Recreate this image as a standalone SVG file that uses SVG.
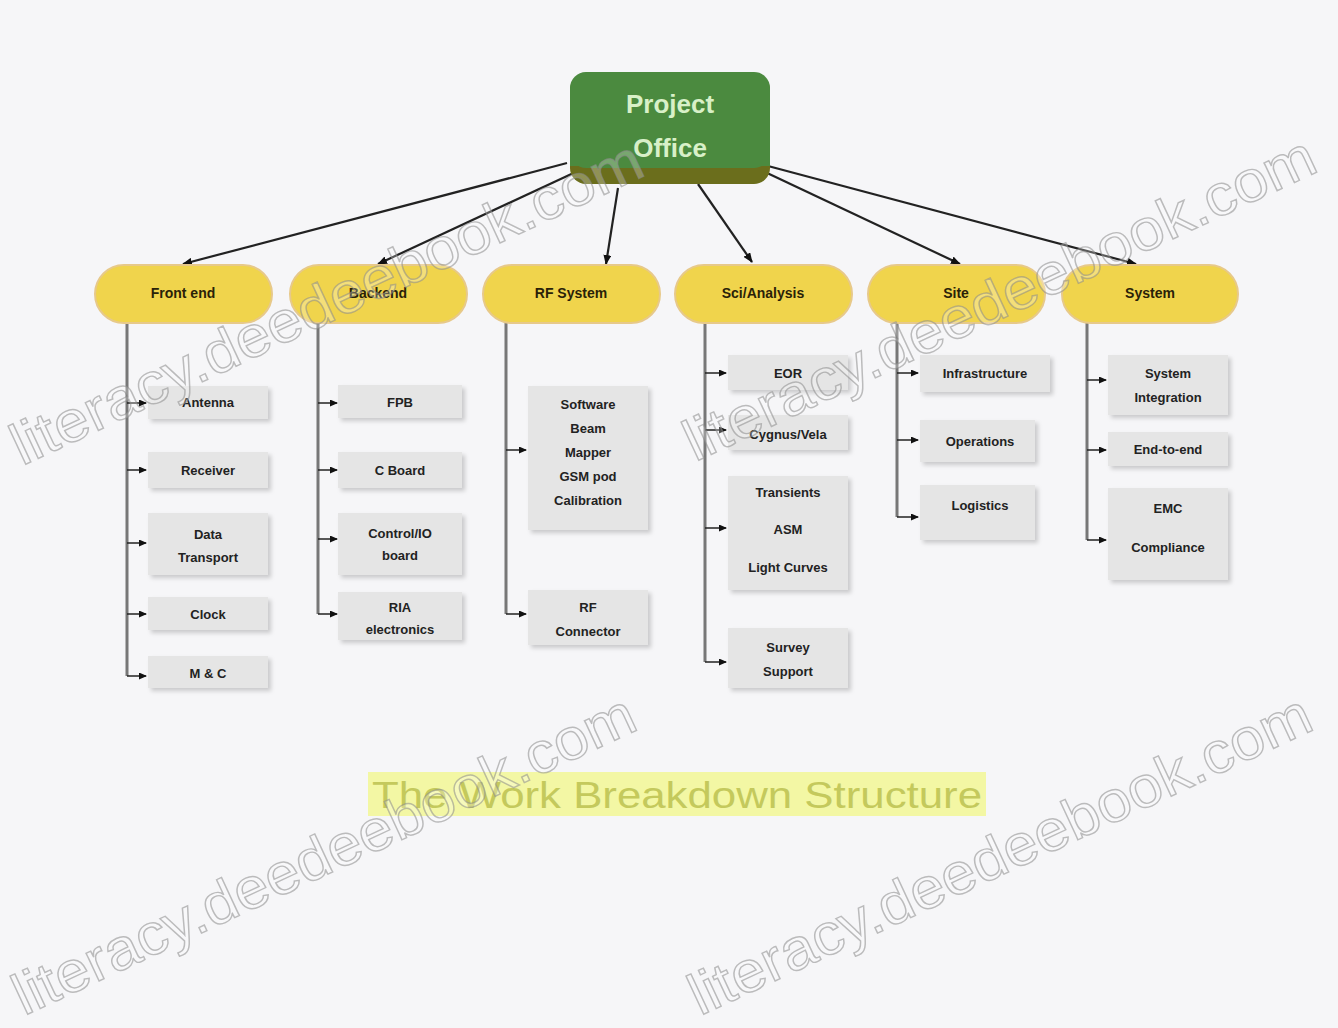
<svg xmlns="http://www.w3.org/2000/svg" width="1338" height="1028" viewBox="0 0 1338 1028">
<defs>
<marker id="ah" markerWidth="10" markerHeight="8" refX="9" refY="4" orient="auto" markerUnits="userSpaceOnUse">
<path d="M0,0 L10,4 L0,8 Z" fill="#111"/>
</marker>
<marker id="sh" markerWidth="8" markerHeight="7" refX="7" refY="3.5" orient="auto" markerUnits="userSpaceOnUse">
<path d="M0,0 L8,3.5 L0,7 Z" fill="#111"/>
</marker>
<filter id="shd" x="-10%" y="-10%" width="130%" height="140%">
<feDropShadow dx="3" dy="3" stdDeviation="2" flood-color="#000" flood-opacity="0.18"/>
</filter>
</defs>
<style>
.bg{fill:#f6f6f8}
.l2{fill:#f0d44c;stroke:#e7c98a;stroke-width:2}
.l2t{font-family:"Liberation Sans",Arial,sans-serif;font-size:14px;font-weight:bold;fill:#2a2208;text-anchor:middle}
.cb{fill:#e5e5e5}
.ct{font-family:"Liberation Sans",Arial,sans-serif;font-size:13px;font-weight:bold;fill:#222;text-anchor:middle}
.vl{stroke:#777;stroke-width:3;fill:none}
.hl{stroke:#222;stroke-width:1.5;fill:none;marker-end:url(#sh)}
.top{stroke:#222;stroke-width:2.2;fill:none;marker-end:url(#ah)}
.wm{font-family:"Liberation Sans",Arial,sans-serif;font-size:58px;fill:#ffffff;fill-opacity:0.25;stroke:#8a8a8a;stroke-width:1.4;stroke-opacity:0.55}
</style>
<rect class="bg" x="0" y="0" width="1338" height="1028"/>

<g id="connectors">
<line class="top" x1="567" y1="163" x2="183" y2="264"/>
<line class="top" x1="580" y1="170" x2="378" y2="264"/>
<line class="top" x1="618" y1="188" x2="606" y2="264"/>
<line class="top" x1="698" y1="184" x2="752" y2="262"/>
<line class="top" x1="765" y1="172" x2="960" y2="264"/>
<line class="top" x1="768" y1="166" x2="1136" y2="264"/>

<path class="vl" d="M127,323 V676"/>
<line class="hl" x1="127" y1="403" x2="146" y2="403"/>
<line class="hl" x1="127" y1="470" x2="146" y2="470"/>
<line class="hl" x1="127" y1="543" x2="146" y2="543"/>
<line class="hl" x1="127" y1="614" x2="146" y2="614"/>
<line class="hl" x1="127" y1="676" x2="146" y2="676"/>

<path class="vl" d="M318,323 V614"/>
<line class="hl" x1="318" y1="403" x2="337" y2="403"/>
<line class="hl" x1="318" y1="470" x2="337" y2="470"/>
<line class="hl" x1="318" y1="539" x2="337" y2="539"/>
<line class="hl" x1="318" y1="614" x2="337" y2="614"/>

<path class="vl" d="M506,323 V614"/>
<line class="hl" x1="506" y1="450" x2="526" y2="450"/>
<line class="hl" x1="506" y1="614" x2="526" y2="614"/>

<path class="vl" d="M705,323 V662"/>
<line class="hl" x1="705" y1="373" x2="726" y2="373"/>
<line class="hl" x1="705" y1="430" x2="726" y2="430"/>
<line class="hl" x1="705" y1="528" x2="726" y2="528"/>
<line class="hl" x1="705" y1="662" x2="726" y2="662"/>

<path class="vl" d="M897,323 V517"/>
<line class="hl" x1="897" y1="373" x2="918" y2="373"/>
<line class="hl" x1="897" y1="440" x2="918" y2="440"/>
<line class="hl" x1="897" y1="517" x2="918" y2="517"/>

<path class="vl" d="M1087,323 V540"/>
<line class="hl" x1="1087" y1="380" x2="1106" y2="380"/>
<line class="hl" x1="1087" y1="450" x2="1106" y2="450"/>
<line class="hl" x1="1087" y1="540" x2="1106" y2="540"/>
</g>

<g id="project-office">
<rect x="570" y="74" width="200" height="110" rx="16" fill="#6b6e1c"/>
<rect x="570" y="72" width="200" height="96" rx="16" fill="#4b8a3f"/>
<rect x="570" y="140" width="200" height="26" fill="#4b8a3f"/>
<text x="670" y="113" font-family="'Liberation Sans',Arial,sans-serif" font-size="26" font-weight="bold" fill="#d8f0c8" text-anchor="middle">Project</text>
<text x="670" y="157" font-family="'Liberation Sans',Arial,sans-serif" font-size="26" font-weight="bold" fill="#d8f0c8" text-anchor="middle">Office</text>
</g>

<g id="n-frontend"><rect class="l2" x="95" y="265" width="177" height="58" rx="29"/><text class="l2t" x="183" y="298">Front end</text></g>
<g id="n-backend"><rect class="l2" x="290" y="265" width="177" height="58" rx="29"/><text class="l2t" x="378" y="298">Backend</text></g>
<g id="n-rfsystem"><rect class="l2" x="483" y="265" width="177" height="58" rx="29"/><text class="l2t" x="571" y="298">RF System</text></g>
<g id="n-science"><rect class="l2" x="675" y="265" width="177" height="58" rx="29"/><text class="l2t" x="763" y="298">Sci/Analysis</text></g>
<g id="n-site"><rect class="l2" x="868" y="265" width="177" height="58" rx="29"/><text class="l2t" x="956" y="298">Site</text></g>
<g id="n-system"><rect class="l2" x="1062" y="265" width="176" height="58" rx="29"/><text class="l2t" x="1150" y="298">System</text></g>

<g id="c-antenna"><rect class="cb" filter="url(#shd)" x="148" y="386" width="120" height="33"/><text class="ct" x="208" y="407">Antenna</text></g>
<g id="c-receiver"><rect class="cb" filter="url(#shd)" x="148" y="452" width="120" height="36"/><text class="ct" x="208" y="475">Receiver</text></g>
<g id="c-datatransport"><rect class="cb" filter="url(#shd)" x="148" y="513" width="120" height="62"/><text class="ct" x="208" y="539">Data</text><text class="ct" x="208" y="562">Transport</text></g>
<g id="c-clock"><rect class="cb" filter="url(#shd)" x="148" y="597" width="120" height="33"/><text class="ct" x="208" y="619">Clock</text></g>
<g id="c-mc"><rect class="cb" filter="url(#shd)" x="148" y="656" width="120" height="32"/><text class="ct" x="208" y="678">M &amp; C</text></g>

<g id="c-fpb"><rect class="cb" filter="url(#shd)" x="338" y="385" width="124" height="33"/><text class="ct" x="400" y="407">FPB</text></g>
<g id="c-cboard"><rect class="cb" filter="url(#shd)" x="338" y="452" width="124" height="36"/><text class="ct" x="400" y="475">C Board</text></g>
<g id="c-controlio"><rect class="cb" filter="url(#shd)" x="338" y="513" width="124" height="62"/><text class="ct" x="400" y="538">Control/IO</text><text class="ct" x="400" y="560">board</text></g>
<g id="c-ria"><rect class="cb" filter="url(#shd)" x="338" y="592" width="124" height="48"/><text class="ct" x="400" y="612">RIA</text><text class="ct" x="400" y="634">electronics</text></g>

<g id="c-software"><rect class="cb" filter="url(#shd)" x="528" y="386" width="120" height="144"/><text class="ct" x="588" y="409">Software</text><text class="ct" x="588" y="433">Beam</text><text class="ct" x="588" y="457">Mapper</text><text class="ct" x="588" y="481">GSM pod</text><text class="ct" x="588" y="505">Calibration</text></g>
<g id="c-rfconnector"><rect class="cb" filter="url(#shd)" x="528" y="590" width="120" height="55"/><text class="ct" x="588" y="612">RF</text><text class="ct" x="588" y="636">Connector</text></g>

<g id="c-eor"><rect class="cb" filter="url(#shd)" x="728" y="355" width="120" height="35"/><text class="ct" x="788" y="378">EOR</text></g>
<g id="c-cygnus"><rect class="cb" filter="url(#shd)" x="728" y="415" width="120" height="35"/><text class="ct" x="788" y="439">Cygnus/Vela</text></g>
<g id="c-transients"><rect class="cb" filter="url(#shd)" x="728" y="476" width="120" height="114"/><text class="ct" x="788" y="497">Transients</text><text class="ct" x="788" y="534">ASM</text><text class="ct" x="788" y="572">Light Curves</text></g>
<g id="c-survey"><rect class="cb" filter="url(#shd)" x="728" y="628" width="120" height="60"/><text class="ct" x="788" y="652">Survey</text><text class="ct" x="788" y="676">Support</text></g>

<g id="c-infrastructure"><rect class="cb" filter="url(#shd)" x="920" y="355" width="130" height="37"/><text class="ct" x="985" y="378">Infrastructure</text></g>
<g id="c-operations"><rect class="cb" filter="url(#shd)" x="920" y="420" width="115" height="42"/><text class="ct" x="980" y="446">Operations</text></g>
<g id="c-logistics"><rect class="cb" filter="url(#shd)" x="920" y="485" width="115" height="55"/><text class="ct" x="980" y="510">Logistics</text></g>

<g id="c-sysint"><rect class="cb" filter="url(#shd)" x="1108" y="355" width="120" height="60"/><text class="ct" x="1168" y="378">System</text><text class="ct" x="1168" y="402">Integration</text></g>
<g id="c-endtoend"><rect class="cb" filter="url(#shd)" x="1108" y="432" width="120" height="34"/><text class="ct" x="1168" y="454">End-to-end</text></g>
<g id="c-emc"><rect class="cb" filter="url(#shd)" x="1108" y="488" width="120" height="92"/><text class="ct" x="1168" y="513">EMC</text><text class="ct" x="1168" y="552">Compliance</text></g>

<g id="caption">
<rect x="368" y="772" width="618" height="44" fill="#f3f7a4"/>
<text x="677" y="808" font-family="'Liberation Sans',Arial,sans-serif" font-size="37" fill="#c4c95c" text-anchor="middle" textLength="610" lengthAdjust="spacingAndGlyphs">The Work Breakdown Structure</text>
</g>

<g id="watermarks">
<text class="wm" transform="translate(22,466) rotate(-25)" textLength="690" lengthAdjust="spacingAndGlyphs">literacy.deedeebook.com</text>
<text class="wm" transform="translate(695,462) rotate(-25)" textLength="690" lengthAdjust="spacingAndGlyphs">literacy.deedeebook.com</text>
<text class="wm" transform="translate(24,1016) rotate(-25)" textLength="680" lengthAdjust="spacingAndGlyphs">literacy.deedeebook.com</text>
<text class="wm" transform="translate(700,1016) rotate(-25)" textLength="680" lengthAdjust="spacingAndGlyphs">literacy.deedeebook.com</text>
</g>
</svg>
